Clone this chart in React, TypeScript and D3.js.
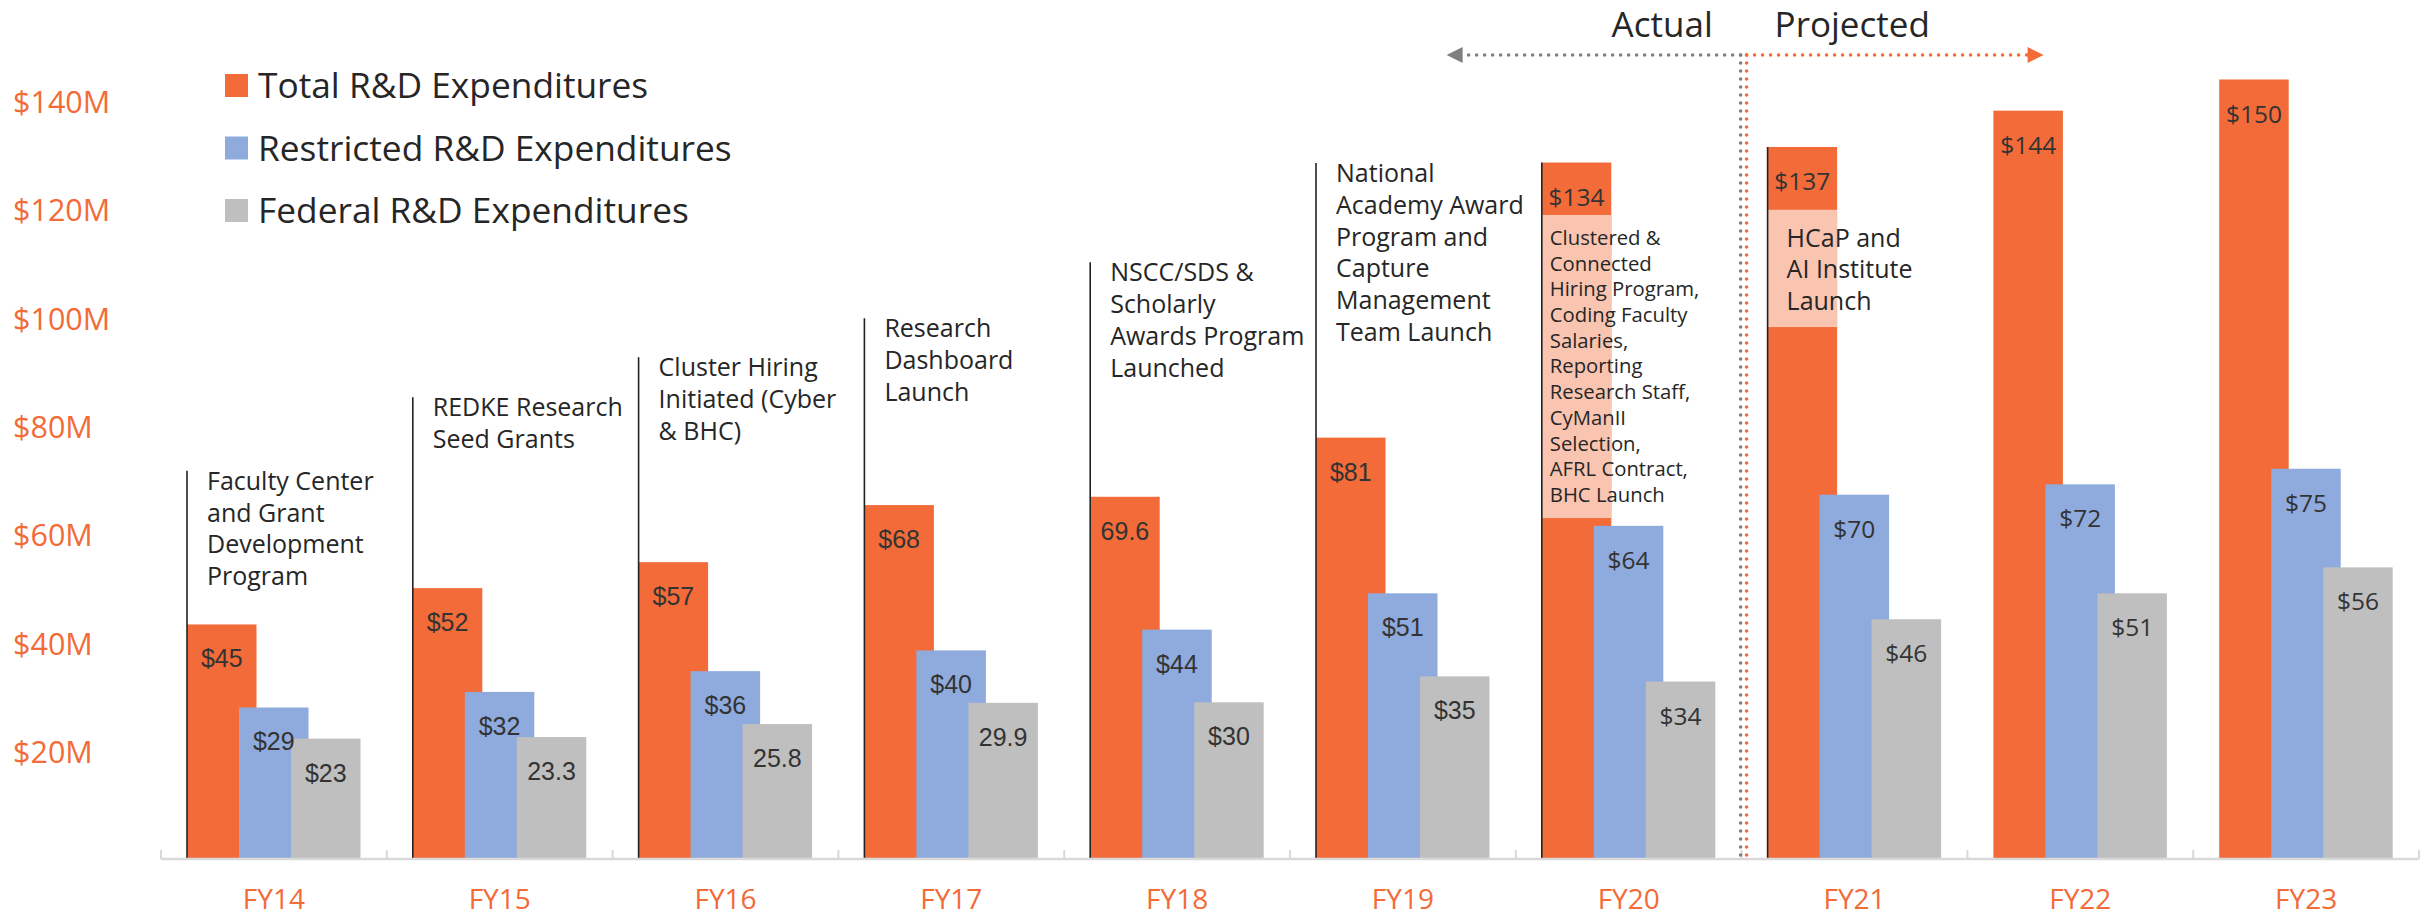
import React from "react";
import * as d3 from "d3";

const categories = ["FY14", "FY15", "FY16", "FY17", "FY18", "FY19", "FY20", "FY21", "FY22", "FY23"];
const totalValues = [45, 52, 57, 68, 69.6, 81, 134, 137, 144, 150];
const restrictedValues = [29, 32, 36, 40, 44, 51, 64, 70, 72, 75];
const federalValues = [23, 23.3, 25.8, 29.9, 30, 35, 34, 46, 51, 56];
const totalLabels = ["$45", "$52", "$57", "$68", "69.6", "$81", "$134", "$137", "$144", "$150"];
const restrictedLabels = ["$29", "$32", "$36", "$40", "$44", "$51", "$64", "$70", "$72", "$75"];
const federalLabels = ["$23", "23.3", "25.8", "29.9", "$30", "$35", "$34", "$46", "$51", "$56"];
const seriesNames = ["Total R&D Expenditures", "Restricted R&D Expenditures", "Federal R&D Expenditures"];
const yTickValues = [20, 40, 60, 80, 100, 120, 140];
const yTickLabels = ["$20M", "$40M", "$60M", "$80M", "$100M", "$120M", "$140M"];

// milestone annotations (level in $M where the marker line starts)
const noteCategories = ["FY14", "FY15", "FY16", "FY17", "FY18", "FY19"];
const noteLevels = [74.6, 88.8, 96.5, 104, 114.8, 133.9];
const noteLines = [
  ["Faculty Center", "and Grant", "Development", "Program"],
  ["REDKE Research", "Seed Grants"],
  ["Cluster Hiring", "Initiated (Cyber", "& BHC)"],
  ["Research", "Dashboard", "Launch"],
  ["NSCC/SDS &", "Scholarly", "Awards Program", "Launched"],
  ["National", "Academy Award", "Program and", "Capture", "Management", "Team Launch"],
];
// highlighted boxes inside total bars
const boxCategories = ["FY20", "FY21"];
const boxRanges = [[65.5, 123.9], [102.3, 124.9]];
const boxLines = [
  ["Clustered &", "Connected", "Hiring Program,", "Coding Faculty", "Salaries,", "Reporting", "Research Staff,", "CyManII", "Selection,", "AFRL Contract,", "BHC Launch"],
  ["HCaP and", "AI Institute", "Launch"],
];

const ORANGE = "#F26B38";
const BLUE = "#8FAADC";
const GRAY = "#BFBFBF";
const SALMON = "#F9C4B0";
const TEXT = "#262626";
const colors = [ORANGE, BLUE, GRAY];
const SANS = "'Open Sans', 'Noto Sans', sans-serif";
const ARIAL = "'Liberation Sans', Arial, sans-serif";

export default function App() {
  const W = 2433, H = 921;
  const x = d3.scaleBand<string>().domain(categories).range([161, 2419]).padding(0);
  const y = d3.scaleLinear().domain([0, 150]).range([858, 79.5]);
  const yLab = d3.scaleLinear().domain([20, 140]).range([763, 113]);
  const offset = d3.scaleLinear().domain([0, 2]).range([26, 130]);
  const barW = 69.5;
  const series = [totalValues, restrictedValues, federalValues];
  const labels = [totalLabels, restrictedLabels, federalLabels];

  const divider = x("FY21")!;
  const arrowY = 55;

  return (
    <svg width={W} height={H} style={{ position: "absolute", left: 0, top: 0, background: "#fff" }}>
      {/* y labels */}
      {yTickValues.map((v, i) => (
        <text key={"yl" + i} x={13} y={yLab(v)} fontFamily={SANS} fontSize={30.5} fill={ORANGE}>
          {yTickLabels[i]}
        </text>
      ))}

      {/* legend */}
      {seriesNames.map((n, i) => (
        <g key={"lg" + i}>
          <rect x={225} y={74 + i * 62.5} width={23} height={23} fill={colors[i]} />
          <text x={258} y={98 + i * 62.5} fontFamily={SANS} fontSize={35.3} fill={TEXT}>
            {n}
          </text>
        </g>
      ))}

      {/* bars */}
      {series.map((vals, s) =>
        vals.map((v, i) => {
          const bx = x(categories[i])! + offset(s);
          return (
            <rect key={"b" + s + "-" + i} x={bx} y={y(v)} width={barW} height={y(0) - y(v)} fill={colors[s]} />
          );
        })
      )}

      {/* highlighted boxes */}
      {boxCategories.map((c, k) => {
        const bx = x(c)! + offset(0);
        const [lo, hi] = boxRanges[k];
        return <rect key={"bx" + k} x={bx} y={y(hi)} width={barW} height={y(lo) - y(hi)} fill={SALMON} />;
      })}

      {/* value labels */}
      {series.map((vals, s) =>
        vals.map((v, i) => {
          const bx = x(categories[i])! + offset(s) + barW / 2;
          return (
            <text
              key={"v" + s + "-" + i}
              x={bx}
              y={y(v) + 43}
              textAnchor="middle"
              fontFamily={i < 6 ? ARIAL : SANS}
              fontSize={i < 6 ? 25 : 24.5}
              fill="#333"
            >
              {labels[s][i]}
            </text>
          );
        })
      )}

      {/* box texts */}
      {boxCategories.map((c, k) => {
        const bx = x(c)! + offset(0);
        const [, hi] = boxRanges[k];
        const small = k === 0;
        const fs = small ? 20.3 : 25;
        const lh = small ? 25.7 : 31.5;
        const dx = small ? 8 : 19;
        const first = small ? 30 : 37;
        return (
          <g key={"bt" + k}>
            {boxLines[k].map((ln, j) => (
              <text key={j} x={bx + dx} y={y(hi) + first + j * lh} fontFamily={SANS} fontSize={fs} fill={TEXT}>
                {ln}
              </text>
            ))}
          </g>
        );
      })}

      {/* marker lines for FY20 and FY21 */}
      {boxCategories.map((c, k) => {
        const bx = x(c)! + offset(0);
        const v = totalValues[categories.indexOf(c)];
        return <line key={"bl" + k} x1={bx} x2={bx} y1={y(v)} y2={y(0)} stroke="#222" strokeWidth={1.6} />;
      })}

      {/* milestone notes */}
      {noteCategories.map((c, k) => {
        const lx = x(c)! + offset(0);
        const top = y(noteLevels[k]);
        return (
          <g key={"n" + k}>
            <line x1={lx} x2={lx} y1={top} y2={y(0)} stroke="#222" strokeWidth={1.6} />
            {noteLines[k].map((ln, j) => (
              <text key={j} x={lx + 20} y={top + 19 + j * 31.8} fontFamily={SANS} fontSize={25} fill={TEXT}>
                {ln}
              </text>
            ))}
          </g>
        );
      })}

      {/* x axis */}
      <line x1={161} x2={2419} y1={859} y2={859} stroke="#D9D9D9" strokeWidth={2.5} />
      {categories.map((c, i) => (
        <line key={"t" + i} x1={x(c)!} x2={x(c)!} y1={850} y2={859} stroke="#D9D9D9" strokeWidth={2} />
      ))}
      <line x1={2419} x2={2419} y1={850} y2={859} stroke="#D9D9D9" strokeWidth={2} />
      {categories.map((c, i) => (
        <text key={"xl" + i} x={x(c)! + x.bandwidth() / 2} y={909} textAnchor="middle" fontFamily={SANS} fontSize={28} fill={ORANGE}>
          {c}
        </text>
      ))}

      {/* actual / projected divider */}
      <line x1={divider - 1} x2={divider - 1} y1={arrowY} y2={858} stroke="#7F7F7F" strokeWidth={3.6} strokeDasharray="0 8" strokeLinecap="round" />
      <line x1={divider + 5} x2={divider + 5} y1={arrowY} y2={858} stroke={ORANGE} strokeWidth={3.6} strokeDasharray="0 8" strokeLinecap="round" />
      <line x1={divider - 1} x2={divider - 278} y1={arrowY} y2={arrowY} stroke="#7F7F7F" strokeWidth={3.6} strokeDasharray="0 8" strokeLinecap="round" />
      <line x1={divider + 5} x2={divider + 286} y1={arrowY} y2={arrowY} stroke={ORANGE} strokeWidth={3.6} strokeDasharray="0 8" strokeLinecap="round" />
      <path d={`M${divider - 295},${arrowY} L${divider - 279},${arrowY - 8} L${divider - 279},${arrowY + 8} Z`} fill="#7F7F7F" />
      <path d={`M${divider + 302},${arrowY} L${divider + 286},${arrowY - 8} L${divider + 286},${arrowY + 8} Z`} fill={ORANGE} />
      <text x={divider - 130} y={37} fontFamily={SANS} fontSize={35} fill={TEXT}>
        Actual
      </text>
      <text x={divider + 33} y={37} fontFamily={SANS} fontSize={35} fill={TEXT}>
        Projected
      </text>
    </svg>
  );
}
